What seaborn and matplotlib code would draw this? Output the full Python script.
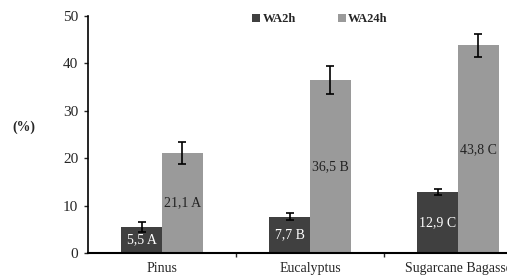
import numpy as np
import pandas as pd
import matplotlib.pyplot as plt
import seaborn as sns

# data
species = ["Pinus", "Eucalyptus", "Sugarcane Bagasse"]
wa2h = [5.5, 7.7, 12.9]
wa24h = [21.1, 36.5, 43.8]
wa2h_err = [1.0, 0.8, 0.6]
wa24h_err = [2.3, 3.0, 2.4]
wa2h_grp = ["A", "B", "C"]
wa24h_grp = ["A", "B", "C"]

df = pd.DataFrame({
    "Species": species * 2,
    "Test": ["WA2h"] * 3 + ["WA24h"] * 3,
    "Value": wa2h + wa24h,
})

sns.set_style("white")
plt.rcParams['font.family'] = ['Liberation Serif', 'DejaVu Serif']

fig = plt.figure(figsize=(5.07, 2.78), dpi=100)
ax = fig.add_axes([88 / 507, 25 / 278, 444 / 507, 237 / 278])

sns.barplot(data=df, x="Species", y="Value", hue="Test", errorbar=None,
            palette=["#404040", "#9a9a9a"], width=0.55, saturation=1,
            edgecolor="none", ax=ax)

# error bars + labels inside bars
labels = [wa2h_grp, wa24h_grp]
vals = [wa2h, wa24h]
errs = [wa2h_err, wa24h_err]
txtcol = ["white", "#222222"]
bar_conts = list(ax.containers)
for i, cont in enumerate(bar_conts):
    xs = [p.get_x() + p.get_width() / 2 for p in cont.patches]
    ax.errorbar(xs, vals[i], yerr=errs[i], fmt="none", ecolor="black",
                elinewidth=1.2, capsize=3, capthick=1.2)
    ax.bar_label(cont, labels=[f"{v:.1f}".replace(".", ",") + " " + g
                               for v, g in zip(vals[i], labels[i])],
                 label_type="center", color=txtcol[i], fontsize=10)

ax.set_xlim(-0.5, 2.5)
ax.set_ylim(0, 50)
ax.set_yticks([0, 10, 20, 30, 40, 50])
ax.set_xlabel("")
ax.set_ylabel("(%)", rotation=0, fontweight="bold", fontsize=10)
ax.yaxis.set_label_coords(-0.145, 0.5)
ax.tick_params(axis="y", labelsize=11, left=True, length=3, width=1, direction="out", pad=4)
ax.tick_params(axis="x", labelsize=10, bottom=False, pad=3)
ax.set_xticks([0.5, 1.5], minor=True)
ax.tick_params(axis="x", which="minor", bottom=True, length=3, width=1, direction="out")

sns.despine(ax=ax)
ax.spines["left"].set_color("black")
ax.spines["bottom"].set_color("black")
ax.spines["left"].set_linewidth(1.2)
ax.spines["bottom"].set_linewidth(1.5)

ax.legend(loc="upper left", bbox_to_anchor=(0.345, 1.06), ncol=2, frameon=False,
          handlelength=0.6, handleheight=0.6, handletextpad=0.2,
          columnspacing=3.4, prop={"weight": "bold", "size": 9})

fig.savefig("out.png", dpi=100)
